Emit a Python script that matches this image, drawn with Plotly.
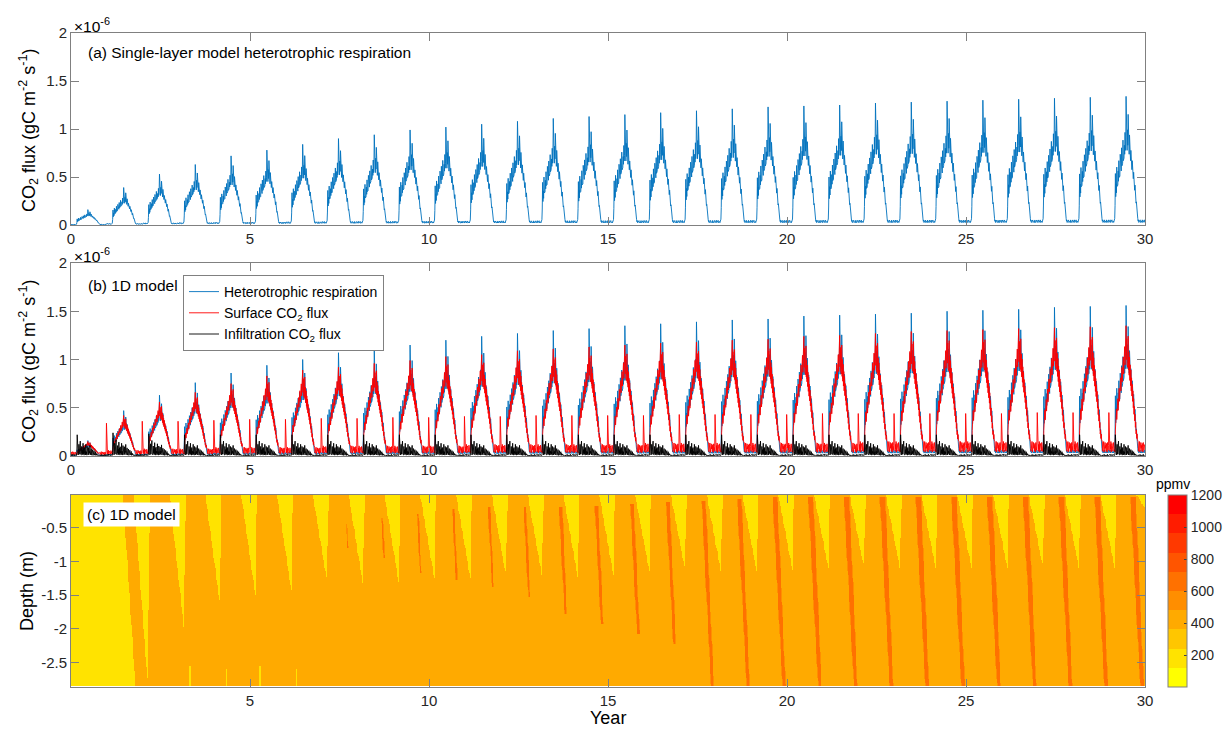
import numpy as np
import plotly.graph_objects as go

# ------------------------------------------------------------------ data
years = list(range(30))
steps_per_year = 104

# panel (a): peak spike of each annual cycle (x1e-6 gC m-2 s-1)
a_peak = [0.16, 0.39, 0.53, 0.63, 0.72, 0.78, 0.84, 0.90, 0.94, 0.99,
          1.02, 1.05, 1.08, 1.11, 1.13, 1.15, 1.17, 1.19, 1.21, 1.23,
          1.24, 1.25, 1.27, 1.28, 1.29, 1.30, 1.31, 1.32, 1.33, 1.34]
# panel (b) peaks
blue_peak = [0.16, 0.47, 0.63, 0.76, 0.86, 0.94, 1.00, 1.07, 1.11, 1.15,
             1.20, 1.24, 1.27, 1.30, 1.32, 1.35, 1.37, 1.39, 1.41, 1.42,
             1.45, 1.46, 1.47, 1.48, 1.50, 1.51, 1.52, 1.54, 1.55, 1.56]
red_peak = [0.15, 0.42, 0.56, 0.66, 0.75, 0.83, 0.89, 0.92, 0.96, 0.99,
            1.03, 1.05, 1.09, 1.11, 1.13, 1.15, 1.17, 1.18, 1.20, 1.21,
            1.24, 1.25, 1.27, 1.29, 1.30, 1.31, 1.32, 1.33, 1.34, 1.35]
red_base = [0.03, 0.04, 0.05, 0.05, 0.06, 0.06, 0.06, 0.07, 0.07, 0.07,
            0.07, 0.08, 0.08, 0.08, 0.08, 0.08, 0.09, 0.09, 0.09, 0.09,
            0.09, 0.09, 0.10, 0.10, 0.10, 0.10, 0.10, 0.10, 0.10, 0.10]
red_spike = [0.34, 0.36, 0.36, 0.37, 0.38, 0.38, 0.39, 0.39, 0.40, 0.40,
             0.41, 0.41, 0.42, 0.42, 0.42, 0.42, 0.43, 0.43, 0.43, 0.43,
             0.44, 0.44, 0.44, 0.44, 0.44, 0.44, 0.45, 0.45, 0.45, 0.12]
black_peak = [0.22, 0.24, 0.23, 0.22, 0.22, 0.22, 0.22, 0.22, 0.22, 0.22,
              0.22, 0.22, 0.22, 0.22, 0.22, 0.22, 0.22, 0.22, 0.22, 0.22,
              0.22, 0.22, 0.22, 0.22, 0.22, 0.22, 0.22, 0.22, 0.22, 0.22]

# within-year shapes read from a typical cycle (104 steps, relative to peak)
resp_shape = [0.03, 0.02, 0.03, 0.04, 0.02, 0.03, 0.02, 0.03, 0.04, 0.02,
              0.03, 0.02, 0.03, 0.02, 0.04, 0.03, 0.05,
              0.15, 0.40, 0.22, 0.32, 0.25, 0.45, 0.30, 0.36, 0.31, 0.42,
              0.34, 0.50, 0.37, 0.44, 0.38, 0.55, 0.42, 0.48, 0.42, 0.60,
              0.46, 0.52, 0.48, 0.66, 0.50, 0.57, 0.52, 0.62, 0.55, 0.72,
              0.58, 0.63, 1.00, 0.60, 0.68, 0.58, 0.74, 0.62, 0.86, 0.58,
              0.66, 0.55, 0.70, 0.52, 0.62, 0.50, 0.58, 0.46, 0.54, 0.43,
              0.50, 0.40, 0.45, 0.36, 0.41, 0.32, 0.36, 0.27, 0.31, 0.22,
              0.25, 0.17, 0.18, 0.11, 0.10, 0.06, 0.05,
              0.03, 0.04, 0.02, 0.03, 0.02, 0.03, 0.04, 0.02, 0.03, 0.02,
              0.03, 0.02, 0.04, 0.03, 0.02, 0.03, 0.02, 0.03, 0.04, 0.02]
red_shape = [0] * 18 + [
    0.20, 0.32, 0.24, 0.36, 0.28, 0.40, 0.32, 0.44, 0.35, 0.48,
    0.38, 0.52, 0.42, 0.56, 0.46, 0.60, 0.50, 0.64, 0.54, 0.68,
    0.57, 0.72, 0.60, 0.76, 0.63, 0.80, 0.66, 0.84, 0.70, 0.88,
    0.72, 1.00, 0.74, 0.90, 0.70, 0.86, 0.68, 0.92, 0.66, 0.80,
    0.62, 0.76, 0.58, 0.70, 0.54, 0.66, 0.50, 0.60, 0.46, 0.55,
    0.42, 0.50, 0.37, 0.44, 0.32, 0.38, 0.27, 0.32, 0.22, 0.26,
    0.17, 0.20, 0.12, 0.14, 0.08, 0.06, 0.03] + [0] * 19
red_floor = [1.0, 1.4, 0.5, 1.2, 0.7, 1.5, 0.4, 1.1, 1.3, 0.6,
             1.2, 0.5, 1.4, 0.9, 1.1, 0.5, 0.6, 0.4] + [0] * 62 + [
             0.2, 0.4, 0.6, 0.8, 1.1, 0.5, 1.3, 0.9, 1.5, 0.4,
             1.2, 0.6, 1.4, 0.8, 1.1, 0.5, 1.3, 0.9, 0.4, 1.4,
             1.0, 0.6, 1.1, 0]
black_shape = [0.03, 0.07, 0.02, 0.05, 0.03, 0.08, 0.02, 0.04, 0.06, 0.02,
               0.05, 0.02, 0.07, 0.03, 0.05, 0.02, 0.04,
               0.15, 1.00, 0.10, 0.35, 0.05, 0.20, 0.55, 0.08, 0.30, 0.10,
               0.70, 0.08, 0.25, 0.05, 0.45, 0.12, 0.30, 0.06, 0.60, 0.10,
               0.35, 0.04, 0.40, 0.12, 0.22, 0.05, 0.55, 0.10, 0.20, 0.04,
               0.45, 0.12, 0.28, 0.05, 0.40, 0.08, 0.22, 0.15, 0.50, 0.05,
               0.25, 0.08, 0.35, 0.04, 0.20, 0.10, 0.30, 0.03, 0.18, 0.06,
               0.25, 0.04, 0.15, 0.05, 0.20, 0.03, 0.12, 0.04, 0.10, 0.02,
               0.08, 0.02, 0.05, 0.02, 0.04, 0.01, 0.03,
               0.02, 0.05, 0.01, 0.06, 0.03, 0.02, 0.07, 0.01, 0.04, 0.02,
               0.05, 0.01, 0.03, 0.05, 0.02, 0.08, 0.01, 0.04, 0.02, 0.03]

# panel (c): soil CO2 field (ppmv) features
season1_start = [1.45, 1.80]          # amber front at top / bottom (year)
wedge_year = list(range(2, 31))       # low-CO2 winter wedges
wedge_tip = [-2.86, -1.98, -1.58, -1.51, -1.43, -1.29, -1.33, -1.29, -1.26, -1.24,
             -1.22, -1.20, -1.22, -1.20, -1.14, -1.12, -1.14, -1.14, -1.12, -1.09,
             -1.09, -1.09, -1.09, -1.09, -1.09, -1.09, -1.09, -1.09, -0.35]
gap_x = [3.32, 4.35, 5.28, 6.30]
gap_top = [-2.55, -2.60, -2.55, -2.60]
stripe_year = list(range(7, 30))      # high-CO2 stripes
stripe_top = [-0.44, -0.35, -0.29, -0.22, -0.20, -0.20, -0.20, -0.18, -0.15, -0.12,
              -0.10, -0.08, -0.06, -0.05, -0.05, -0.05, -0.05, -0.05, -0.05, -0.05,
              -0.05, -0.05, -0.05]
stripe_bottom = [-0.79, -0.95, -1.18, -1.27, -1.38, -1.53, -1.78, -1.93, -2.08, -2.23,
                 -2.86, -2.86, -2.86, -2.86, -2.86, -2.86, -2.86, -2.86, -2.86, -2.86,
                 -2.86, -2.86, -2.86]
stripe_width = [0.02, 0.03, 0.04, 0.05, 0.05, 0.06, 0.08, 0.08, 0.09, 0.09,
                0.10, 0.11, 0.12, 0.13, 0.14, 0.14, 0.14, 0.14, 0.14, 0.14,
                0.14, 0.14, 0.14]
level_gold, level_amber, level_edge, level_orange = 180, 420, 540, 660
cbar_ticks = [200, 400, 600, 800, 1000, 1200]

# ------------------------------------------------------------------ series
f = np.arange(steps_per_year) / steps_per_year
t_line = (np.array(years)[:, None] + f[None, :]).ravel()
ya = (np.array(a_peak)[:, None] * np.array(resp_shape)[None, :]).ravel()
yb_blue = (np.array(blue_peak)[:, None] * np.array(resp_shape)[None, :]).ravel()
red = (np.array(red_peak)[:, None] * np.array(red_shape)[None, :]
       + np.array(red_base)[:, None] * np.array(red_floor)[None, :])
red[:, -1] = red_spike
yb_red = red.ravel()
yb_black = (np.array(black_peak)[:, None] * np.array(black_shape)[None, :]).ravel()

# ------------------------------------------------------------------ field
t_c = np.arange(0.01, 30.0, 0.02)
d_c = -np.arange(0.0125, 2.86, 0.025)
T, D = np.meshgrid(t_c, d_c)
Z = np.full(T.shape, level_amber)
frac = D / -2.86
Z[T < season1_start[0] + (season1_start[1] - season1_start[0]) * frac] = level_gold
WL, WR, WT = -0.25, 0.20, 0.15
for n, tip in zip(wedge_year, wedge_tip):
    r = np.clip(D / tip, 0, 1)
    xl = n + WL + (WT - WL) * r
    xr = n + WR + (WT - WR) * r
    Z[(D >= tip) & (T >= xl) & (T <= xr)] = level_gold
for gx, gt in zip(gap_x, gap_top):
    Z[(np.abs(T - gx) < 0.011) & (D <= gt)] = level_gold
for n, st, sb, sw in zip(stripe_year, stripe_top, stripe_bottom, stripe_width):
    c = n + 0.66 + 0.09 * (-D)
    s = np.clip((D - st) / (sb - st), 0, 1)
    half = sw / 2 * (1 - 0.4 * s)
    inside = (D <= st) & (D >= sb)
    Z[inside & (np.abs(T - c) <= half + 0.015)] = level_edge
    Z[inside & (np.abs(T - c) <= half)] = level_orange

band_colors = ['rgb(255,%d,0)' % round(255 * (1 - k / 9)) for k in range(10)]
colorscale = []
for k, col in enumerate(band_colors):
    colorscale.append([k / 10, col])
    colorscale.append([(k + 1) / 10, col])

# ------------------------------------------------------------------ figure
W, H = 1223, 730
def px(x): return x / W
def py(y): return 1 - y / H

FONT = 'Liberation Sans, Arial, Helvetica'
fig = go.Figure()
fig.add_trace(go.Scatter(x=t_line, y=ya, mode='lines', line=dict(color='#0072BD', width=0.9),
                         showlegend=False, xaxis='x', yaxis='y'))
fig.add_trace(go.Scatter(x=t_line, y=yb_blue, mode='lines', line=dict(color='#0072BD', width=0.9),
                         name='Heterotrophic respiration', xaxis='x2', yaxis='y2'))
fig.add_trace(go.Scatter(x=t_line, y=yb_red, mode='lines', line=dict(color='#FF0000', width=0.9),
                         name='Surface CO<sub>2</sub> flux', xaxis='x2', yaxis='y2'))
fig.add_trace(go.Scatter(x=t_line, y=yb_black, mode='lines', line=dict(color='#000000', width=0.9),
                         name='Infiltration CO<sub>2</sub> flux', xaxis='x2', yaxis='y2'))
fig.add_trace(go.Heatmap(x=t_c, y=d_c, z=Z.astype(int).tolist(), zmin=0, zmax=1200,
                         colorscale=colorscale, xaxis='x3', yaxis='y3', hoverinfo='skip',
                         colorbar=dict(x=px(1168), xanchor='left', xref='paper', xpad=0,
                                       y=py(591), yanchor='middle', yref='paper', ypad=0,
                                       len=192 / H, lenmode='fraction', thickness=19,
                                       thicknessmode='pixels', outlinecolor='#808080',
                                       outlinewidth=1, tickvals=cbar_ticks,
                                       ticks='inside', ticklen=3, tickcolor='#404040',
                                       tickfont=dict(family=FONT, size=14, color='#262626'))))

axis_common = dict(showline=True, linecolor='#808080', linewidth=1, mirror='ticks',
                   ticks='inside', ticklen=8, tickcolor='#808080', showgrid=False,
                   zeroline=False, automargin=False,
                   tickfont=dict(family=FONT, size=15, color='#262626'))
xdom = [px(71), px(1145)]
xt = [0, 5, 10, 15, 20, 25, 30]
fig.update_layout(
    width=W, height=H, paper_bgcolor='white', plot_bgcolor='white',
    margin=dict(l=0, r=0, t=0, b=0, autoexpand=False),
    font=dict(family=FONT, color='#000000'),
    xaxis=dict(domain=xdom, anchor='y', range=[0, 30], tickvals=xt, **axis_common),
    yaxis=dict(domain=[py(225), py(33)], anchor='x', range=[0, 2],
               tickvals=[0, 0.5, 1, 1.5, 2], ticktext=['0', '0.5', '1', '1.5', '2'], **axis_common),
    xaxis2=dict(domain=xdom, anchor='y2', range=[0, 30], tickvals=xt, **axis_common),
    yaxis2=dict(domain=[py(456), py(263)], anchor='x2', range=[0, 2],
                tickvals=[0, 0.5, 1, 1.5, 2], ticktext=['0', '0.5', '1', '1.5', '2'], **axis_common),
    xaxis3=dict(domain=xdom, anchor='y3', range=[0, 30], tickvals=[5, 10, 15, 20, 25, 30],
                **axis_common),
    yaxis3=dict(domain=[py(687), py(495)], anchor='x3', range=[-2.86, -0.015],
                tickvals=[-2.5, -2, -1.5, -1, -0.5], ticktext=['-2.5', '-2', '-1.5', '-1', '-0.5'],
                **axis_common),
    legend=dict(x=px(183), y=py(275), xanchor='left', yanchor='top',
                bgcolor='white', bordercolor='#808080', borderwidth=1,
                font=dict(family=FONT, size=14, color='#000000'),
                tracegroupgap=0),
)

ann_font = dict(family=FONT, size=15.5, color='#000000')
title_font = dict(family=FONT, size=18, color='#000000')
ytitle = 'CO<sub>2</sub> flux (gC m<sup>-2</sup> s<sup>-1</sup>)'
anns = [
    dict(x=px(72), y=py(25), text='×10<sup>-6</sup>', font=ann_font, xanchor='left', yanchor='middle'),
    dict(x=px(72), y=py(255), text='×10<sup>-6</sup>', font=ann_font, xanchor='left', yanchor='middle'),
    dict(x=px(86), y=py(53), text='(a) Single-layer model heterotrophic respiration', font=ann_font,
         xanchor='left', yanchor='middle'),
    dict(x=px(86), y=py(285), text='(b) 1D model', font=ann_font, xanchor='left', yanchor='middle'),
    dict(x=px(83), y=py(514), text='(c) 1D model', font=ann_font, xanchor='left', yanchor='middle',
         bgcolor='white', borderpad=3),
    dict(x=px(28), y=py(131), text=ytitle, font=title_font, textangle=-90, xanchor='center', yanchor='middle'),
    dict(x=px(28), y=py(362), text=ytitle, font=title_font, textangle=-90, xanchor='center', yanchor='middle'),
    dict(x=px(27), y=py(591), text='Depth (m)', font=title_font, textangle=-90, xanchor='center', yanchor='middle'),
    dict(x=px(608), y=py(718), text='Year', font=title_font, xanchor='center', yanchor='middle'),
    dict(x=px(1173), y=py(484), text='ppmv', font=dict(family=FONT, size=14, color='#000000'),
         xanchor='center', yanchor='middle'),
]
for a in anns:
    a.update(xref='paper', yref='paper', showarrow=False)
fig.update_layout(annotations=anns)

fig.write_html('out.html', config={'displayModeBar': False},
               post_script="document.body.style.margin='0px';"
                           "document.body.style.padding='0px';")
